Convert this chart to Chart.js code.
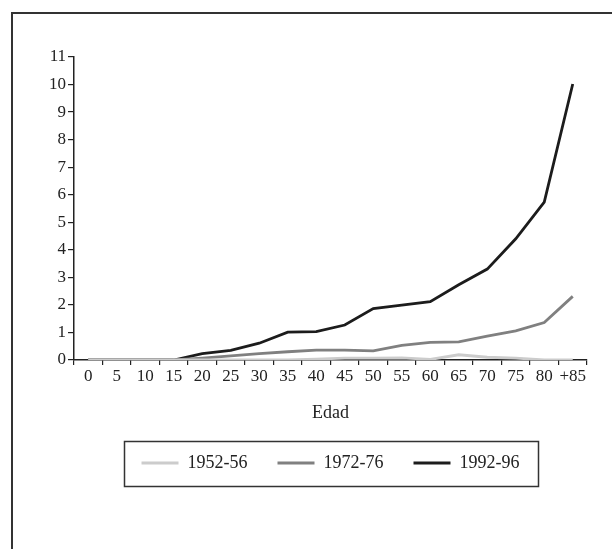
<!DOCTYPE html>
<html>
<head>
<meta charset="utf-8">
<script src="https://cdn.jsdelivr.net/npm/chart.js@4"></script>
<style>
  html, body { margin: 0; padding: 0; background: #fff; }
  #wrap { position: relative; width: 612px; height: 549px; overflow: hidden; }
  #frame { position: absolute; left: 11px; top: 12px; width: 700px; height: 700px;
           border-left: 2px solid #333; border-top: 2px solid #333; }
  canvas { position: absolute; left: 0; top: 0; }
</style>
</head>
<body>
<div id="wrap">
  <div id="frame"></div>
  <canvas id="chart" width="612" height="549"></canvas>
</div>
<script>
// Age groups (x axis)
const ages = ["0", "5", "10", "15", "20", "25", "30", "35", "40", "45",
              "50", "55", "60", "65", "70", "75", "80", "+85"];

// Series values
const s1952 = [0, 0, 0, 0, 0, 0, 0, 0, 0.03, 0.07, 0.07, 0.08, 0.02, 0.19, 0.1, 0.07, 0, 0];
const s1972 = [0, 0, 0, 0, 0.07, 0.15, 0.23, 0.3, 0.36, 0.36, 0.33, 0.53, 0.64, 0.66, 0.87, 1.06, 1.36, 2.31];
const s1992 = [0, 0, 0, 0, 0.23, 0.35, 0.61, 1.01, 1.03, 1.27, 1.87, 1.99, 2.12, 2.73, 3.3, 4.4, 5.73, 10.02];

const seriesNames = ["1952-56", "1972-76", "1992-96"];
const seriesColors = ["#cccccc", "#808080", "#1c1c1c"];

const yMin = 0, yMax = 11, yStep = 1;

const textColor = "#222";
const serif = "'Liberation Serif', 'DejaVu Serif', serif";

// centre the legend under the plot area and draw a box round it
const legendBorder = {
  id: "legendBorder",
  afterLayout(chart) {
    const lg = chart.legend, ca = chart.chartArea;
    if (!lg) return;
    const shift = (ca.left + ca.right) / 2 - (lg.left + lg.right) / 2;
    lg.left += shift;
    lg.right += shift;
  },
  afterDraw(chart) {
    const boxes = chart.legend && chart.legend.legendHitBoxes;
    if (!boxes || !boxes.length) return;
    let x0 = Infinity, x1 = -Infinity, cy = 0;
    boxes.forEach(b => {
      x0 = Math.min(x0, b.left);
      x1 = Math.max(x1, b.left + b.width);
      cy += b.top + b.height / 2;
    });
    cy /= boxes.length;
    const ctx = chart.ctx;
    ctx.save();
    ctx.strokeStyle = "#333";
    ctx.lineWidth = 1.5;
    ctx.strokeRect(Math.round(x0 - 18) + 0.5, Math.round(cy - 22) + 0.5,
                   Math.round(x1 - x0 + 36), 45);
    ctx.restore();
  }
};

const datasets = [s1952, s1972, s1992].map((data, i) => ({
  label: seriesNames[i],
  data: data,
  borderColor: seriesColors[i],
  backgroundColor: seriesColors[i],
  borderWidth: 2.8,
  pointRadius: 0,
  tension: 0
}));

new Chart(document.getElementById("chart"), {
  type: "line",
  data: { labels: ages, datasets: datasets },
  plugins: [legendBorder],
  options: {
    responsive: false,
    animation: false,
    layout: { padding: { top: 57, right: 25, bottom: 67, left: 0 } },
    plugins: {
      tooltip: { enabled: false },
      legend: {
        position: "bottom",
        labels: {
          color: textColor,
          font: { family: serif, size: 18 },
          boxWidth: 37,
          boxHeight: 3,
          padding: 30,
          generateLabels(chart) {
            return Chart.defaults.plugins.legend.labels.generateLabels(chart)
              .map(l => Object.assign(l, { lineWidth: 0 }));
          }
        }
      }
    },
    scales: {
      x: {
        type: "category",
        offset: true,
        grid: { offset: true, drawOnChartArea: false, drawTicks: true, tickLength: 5, color: "#222", lineWidth: 1.2 },
        border: { display: true, color: "#222", width: 1.5 },
        ticks: { color: textColor, font: { family: serif, size: 17 }, maxRotation: 0, autoSkip: false, padding: 1 },
        title: { display: true, text: "Edad", color: textColor, font: { family: serif, size: 18 }, padding: { top: 0, bottom: 0 } },
        afterFit(scale) { scale.height = 64; }
      },
      y: {
        min: yMin,
        max: yMax,
        grid: { drawOnChartArea: false, drawTicks: true, tickLength: 6, color: "#222", lineWidth: 1.2 },
        border: { display: true, color: "#222", width: 1.5 },
        ticks: { stepSize: yStep, color: textColor, font: { family: serif, size: 17 }, padding: 2 },
        afterFit(scale) { scale.width = 74; }
      }
    }
  }
});
</script>
</body>
</html>
